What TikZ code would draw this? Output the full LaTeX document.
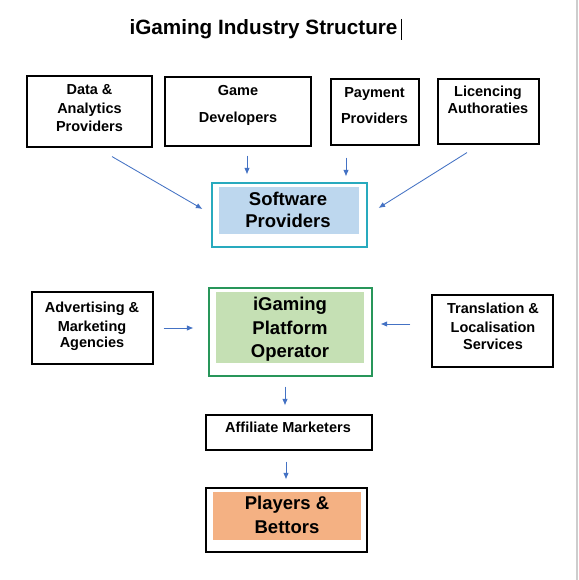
\documentclass[tikz,border=0pt]{standalone}
\usepackage{fontspec}
\setmainfont{Liberation Sans}
\usetikzlibrary{arrows.meta,calc}
\definecolor{arrblue}{RGB}{68,114,196}
\definecolor{tealb}{RGB}{40,170,190}
\definecolor{greenb}{RGB}{40,150,90}
\definecolor{bluefill}{RGB}{189,215,238}
\definecolor{greenfill}{RGB}{197,224,180}
\definecolor{orangefill}{RGB}{244,177,131}
\definecolor{edgegray}{RGB}{205,205,205}
\tikzset{
  box/.style={draw=black, line width=1.15pt, inner sep=0pt, rectangle},
  fillbox/.style={inner sep=0pt, rectangle, draw=none},
  lbl/.style={inner sep=0pt, anchor=base, font=\fontsize{14.5}{17}\selectfont\bfseries},
  biglbl/.style={inner sep=0pt, anchor=base, font=\fontsize{18.5}{22}\selectfont\bfseries},
  arr/.style={draw=arrblue, line width=0.85pt, -{Latex[length=6.5pt,width=5.5pt]}}
}
\begin{document}
\begin{tikzpicture}[x=1pt,y=-1pt]
\useasboundingbox (0,0) rectangle (578,580);
\fill[white] (0,0) rectangle (578,580);
% right page edge line
\coordinate (e1) at (577,0);
\coordinate (e2) at (577,580);
\draw[edgegray, line width=1.2pt] (e1) -- (e2);

% title
\node[inner sep=0pt, anchor=base, font=\fontsize{20.7}{24}\selectfont\bfseries] (title) at (263.5,35) {iGaming Industry Structure};
\coordinate (cur1) at (401.5,19);
\coordinate (cur2) at (401.5,40);
\draw[line width=0.8pt] (cur1) -- (cur2);

% top row boxes
\node[box, minimum width=125pt, minimum height=71pt] (data) at (89.5,111.5) {};
\node[lbl] (dataA) at (89.5,95) {Data \&};
\node[lbl] (dataB) at (89.5,114) {Analytics};
\node[lbl] (dataC) at (89.5,132) {Providers};

\node[box, minimum width=146pt, minimum height=69pt] (game) at (238,111.5) {};
\node[lbl] (gameA) at (238,96) {Game};
\node[lbl] (gameB) at (238,123) {Developers};

\node[box, minimum width=88pt, minimum height=66pt] (pay) at (375,112) {};
\node[lbl] (payA) at (374.5,98) {Payment};
\node[lbl] (payB) at (374.5,124) {Providers};

\node[box, minimum width=101pt, minimum height=65pt] (lic) at (488.5,111.5) {};
\node[lbl] (licA) at (488,97) {Licencing};
\node[lbl] (licB) at (488,114) {Authoraties};

% software providers
\node[box, draw=tealb, minimum width=155pt, minimum height=64pt] (soft) at (289.5,215) {};
\node[fillbox, fill=bluefill, minimum width=140pt, minimum height=47pt] (softfill) at (289,210.5) {};
\node[biglbl] (softA) at (288,205) {Software};
\node[biglbl] (softB) at (288,227) {Providers};

% middle row
\node[box, minimum width=121pt, minimum height=72pt] (adv) at (92.5,328) {};
\node[lbl] (advA) at (92,312) {Advertising \&};
\node[lbl] (advB) at (92,331) {Marketing};
\node[lbl] (advC) at (92,347.5) {Agencies};

\node[box, draw=greenb, minimum width=163pt, minimum height=88pt] (ig) at (290.5,332) {};
\node[fillbox, fill=greenfill, minimum width=148pt, minimum height=71pt] (igfill) at (290,327.5) {};
\node[biglbl] (igA) at (290,310) {iGaming};
\node[biglbl] (igB) at (290,334) {Platform};
\node[biglbl] (igC) at (290,357) {Operator};

\node[box, minimum width=121pt, minimum height=72pt] (tr) at (492.5,331) {};
\node[lbl] (trA) at (493,313) {Translation \&};
\node[lbl] (trB) at (493,332) {Localisation};
\node[lbl] (trC) at (493,349) {Services};

% affiliate
\node[box, minimum width=166pt, minimum height=35pt] (aff) at (289,432.5) {};
\node[lbl] (affA) at (288,432) {Affiliate Marketers};

% players
\node[box, minimum width=161pt, minimum height=64pt] (pl) at (286.5,520) {};
\node[fillbox, fill=orangefill, minimum width=148pt, minimum height=48pt] (plfill) at (287,516) {};
\node[biglbl] (plA) at (287,509) {Players \&};
\node[biglbl] (plB) at (287,533) {Bettors};

% arrows
\draw[arr] ($(data.south)+(22.5,9)$) -- ($(soft.west)+(-9,-6)$);
\draw[arr] ($(game.south)+(9,9)$) -- ($(soft.north)+(-42.5,-8)$);
\draw[arr] ($(pay.south)+(-29,12)$) -- ($(soft.north)+(56.5,-6)$);
\draw[arr] ($(lic.south)+(-21.5,8)$) -- ($(soft.east)+(11,-7)$);
\draw[arr] ($(adv.east)+(10,0)$) -- ($(ig.west)+(-15,-4)$);
\draw[arr] ($(tr.west)+(-21,-7)$) -- ($(ig.east)+(8,-8)$);
\draw[arr] ($(ig.south)+(-5.5,10)$) -- ($(aff.north)+(-4,-9)$);
\draw[arr] ($(aff.south)+(-3,11)$) -- ($(pl.north)+(-0.5,-8)$);
\end{tikzpicture}
\end{document}
